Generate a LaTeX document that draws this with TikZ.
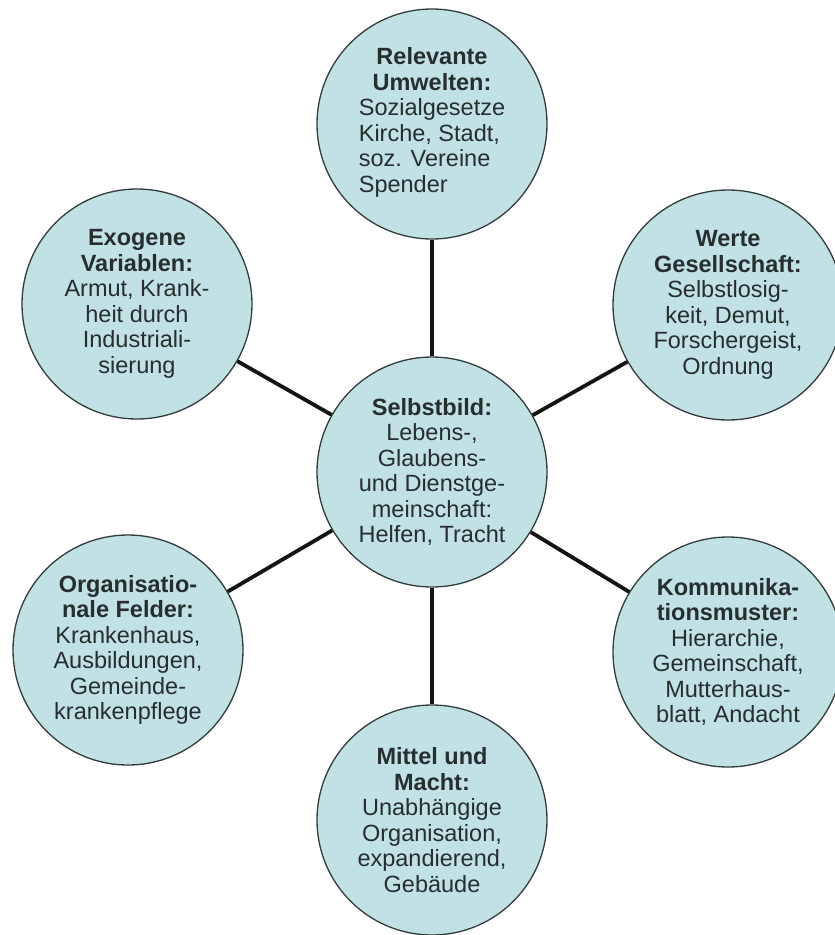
\documentclass[tikz,border=0pt]{standalone}
\usepackage{fontspec}
\setmainfont{Liberation Sans}
\definecolor{bubblefill}{RGB}{193,225,229}
\definecolor{rim}{RGB}{50,60,60}
\definecolor{ink}{RGB}{38,46,46}
\begin{document}
\begin{tikzpicture}[x=1pt,y=-1pt,
  bubble/.style={circle, draw=rim, line width=1.3pt, fill=bubblefill,
    minimum size=230pt, inner sep=0pt, align=center, text=ink,
    font=\fontsize{23.5}{25.5}\selectfont},
  link/.style={line width=3.8pt, draw=black!92}]
\fill[white] (0,0) rectangle (835,935);
\useasboundingbox (0,0) rectangle (835,935);

% hub
\node[bubble] (self) at (432,472)
  {\textbf{Selbstbild:}\\Lebens-,\\Glaubens-\\und Dienstge-\\meinschaft:\\Helfen, Tracht};

% satellites
\node[bubble] (env) at (432,124)
  {\textbf{Relevante}\\\textbf{Umwelten:}\\%
   \begin{tabular}[t]{@{}l@{}}Sozialgesetze\\Kirche, Stadt,\\soz. Vereine\\Spender\end{tabular}};
\node[bubble] (exo) at (137,304)
  {\textbf{Exogene}\\\textbf{Variablen:}\\Armut, Krank-\\heit durch\\Industriali-\\sierung};
\node[bubble] (val) at (728,305)
  {\textbf{Werte}\\\textbf{Gesellschaft:}\\Selbstlosig-\\keit, Demut,\\Forschergeist,\\Ordnung};
\node[bubble] (org) at (128,650)
  {\textbf{Organisatio-}\\\textbf{nale Felder:}\\Krankenhaus,\\Ausbildungen,\\Gemeinde-\\krankenpflege};
\node[bubble] (com) at (728,652)
  {\textbf{Kommunika-}\\\textbf{tionsmuster:}\\Hierarchie,\\Gemeinschaft,\\Mutterhaus-\\blatt, Andacht};
\node[bubble] (res) at (432,820)
  {\textbf{Mittel und}\\\textbf{Macht:}\\Unabhängige\\Organisation,\\expandierend,\\Gebäude};

% spokes
\foreach \s in {env,exo,val,org,com,res}
  \draw[link] (self) -- (\s);
\end{tikzpicture}
\end{document}
